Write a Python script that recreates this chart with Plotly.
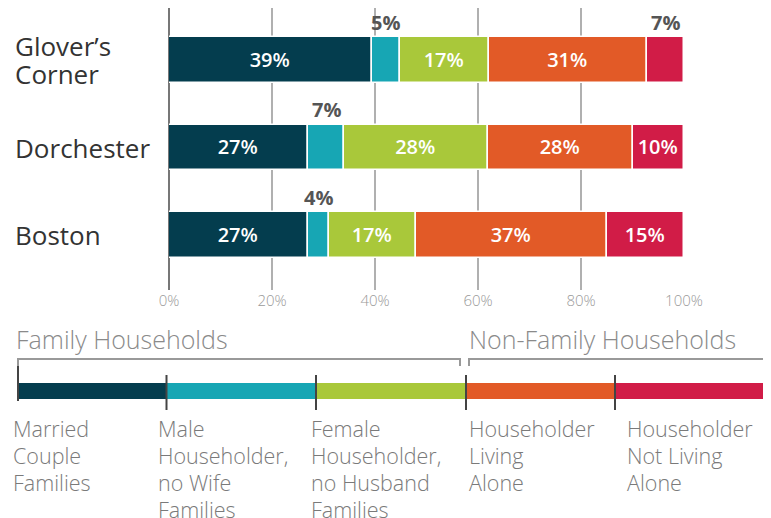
import plotly.graph_objects as go

categories = ["Glover\u2019s<br>Corner", "Dorchester", "Boston"]
series_names = [
    "Married<br>Couple<br>Families",
    "Male<br>Householder,<br>no Wife<br>Families",
    "Female<br>Householder,<br>no Husband<br>Families",
    "Householder<br>Living<br>Alone",
    "Householder<br>Not Living<br>Alone",
]
# shares (labels show them rounded)
married = [39.4, 27, 27]
male_hh = [5.4, 7, 4]
female_hh = [17.3, 28, 17]
living_alone = [30.8, 28, 37]
not_alone = [7.1, 10, 15]
series_values = [married, male_hh, female_hh, living_alone, not_alone]
colors = ["#043d4e", "#17a6b4", "#a9c83a", "#e25a27", "#d11c47"]
tick_vals = [0, 20, 40, 60, 80, 100]
tick_text = ["0%", "20%", "40%", "60%", "80%", "100%"]
group_titles = ["Family Households", "Non-Family Households"]

FONT = "Open Sans"
OFF = 8  # page body margin
W, H = 771 - OFF, 518 - OFF
PX0, PX1, PT, PB = 169, 684, 8, 290


def px(x):
    return (x - PX0) / (PX1 - PX0)


def py(y):
    return (PB - y) / (PB - PT)


ypos = [2, 1, 0]
centers_page = [60, 147, 235]
unit = (centers_page[2] - centers_page[0]) / 2.0
y_lo = 0 - (PB - centers_page[2]) / unit
y_hi = 2 + (centers_page[0] - PT) / unit

fig = go.Figure()
annotations = []
cum = [0, 0, 0]
for s, (vals, col) in enumerate(zip(series_values, colors)):
    texts = [f"{round(v)}%" if v >= 8 else "" for v in vals]
    fig.add_trace(go.Bar(
        x=vals, y=ypos, base=cum[:], orientation="h",
        marker=dict(color=col, line=dict(color="white", width=1.5)),
        width=0.52, text=texts, textposition="inside", insidetextanchor="middle",
        textfont=dict(family=FONT, size=20, color="white", weight=600),
        hoverinfo="skip", showlegend=False, cliponaxis=False,
    ))
    for i, v in enumerate(vals):
        if v < 8:
            annotations.append(dict(
                x=cum[i] + v / 2, y=ypos[i], xref="x", yref="y", text=f"{round(v)}%",
                showarrow=False, yshift=38,
                font=dict(family=FONT, size=20, color="#555555", weight=700),
            ))
    cum = [c + v for c, v in zip(cum, vals)]

for c, yv in zip(categories, ypos):
    lines = c.split("<br>")
    n = len(lines)
    for k, ln in enumerate(lines):
        annotations.append(dict(
            x=px(13), y=yv, xref="paper", yref="y", text=ln, showarrow=False,
            xanchor="left", yanchor="middle", align="left",
            yshift=((n - 1) / 2 - k) * 28.5,
            font=dict(family=FONT, size=26, color="#333333"),
        ))

shapes = []
seg_edges = [18, 166.5, 316, 466, 615, 764]
for k, col in enumerate(colors):
    shapes.append(dict(type="rect", xref="paper", yref="paper",
                       x0=px(seg_edges[k]), x1=px(seg_edges[k + 1]),
                       y0=py(399), y1=py(383), fillcolor=col, line=dict(width=0)))
for k, e in enumerate(seg_edges):
    top = 365 if k == 0 else 375
    bot = 401 if k == 0 else 410
    shapes.append(dict(type="line", xref="paper", yref="paper",
                       x0=px(e), x1=px(e), y0=py(top), y1=py(bot),
                       line=dict(color="#444444", width=2)))
for (a, b) in [(18, 460), (469, 764)]:
    shapes.append(dict(type="path", xref="paper", yref="paper",
                       path=f"M {px(a)},{py(366)} L {px(a)},{py(359)} L {px(b)},{py(359)} L {px(b)},{py(366)}",
                       line=dict(color="#999999", width=2)))

for t, xpix in zip(group_titles, [14, 467]):
    annotations.append(dict(
        x=px(xpix), y=py(339), xref="paper", yref="paper", text=t, showarrow=False,
        xanchor="left", yanchor="middle",
        font=dict(family=FONT, size=25, color="#8a8a8a", weight=300),
    ))

label_x = [11, 156, 309, 467, 625]
for name, xpix in zip(series_names, label_x):
    for k, ln in enumerate(name.split("<br>")):
        annotations.append(dict(
            x=px(xpix), y=py(428 + 27 * k), xref="paper", yref="paper", text=ln,
            showarrow=False, xanchor="left", yanchor="middle", align="left",
            font=dict(family=FONT, size=21.5, color="#7a7a7a", weight=300),
        ))

fig.update_layout(
    width=W, height=H,
    margin=dict(l=PX0 - OFF, r=(771 - PX1), t=PT - OFF, b=518 - PB, pad=0),
    paper_bgcolor="white", plot_bgcolor="white",
    barmode="overlay", bargap=0,
    xaxis=dict(range=[0, 100], tickvals=tick_vals, ticktext=tick_text,
               showgrid=True, gridcolor="#b0b0b0", gridwidth=1.5,
               zeroline=True, zerolinecolor="#777777", zerolinewidth=2,
               ticks="", showline=False, fixedrange=True,
               tickfont=dict(family=FONT, size=15, color="#9a9a9a", weight=300)),
    yaxis=dict(range=[y_lo, y_hi], showticklabels=False, showgrid=False,
               zeroline=False, showline=False, fixedrange=True),
    annotations=annotations, shapes=shapes,
    font=dict(family=FONT),
)

fig.write_html("out.html")
